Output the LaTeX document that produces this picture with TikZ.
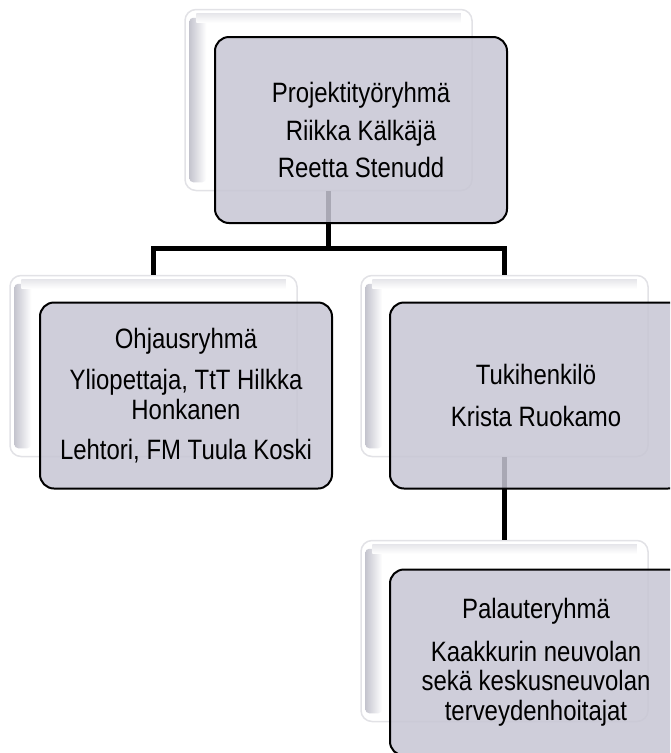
\documentclass[tikz,border=0pt]{standalone}
\usepackage{fontspec}
\setmainfont[FakeStretch=0.855]{Liberation Sans}
\usetikzlibrary{calc}
\definecolor{frontfill}{RGB}{199,198,212}
\definecolor{backedge}{RGB}{226,226,230}
\definecolor{bevel}{RGB}{196,196,206}
\tikzset{
  backbox/.style={draw=backedge, line width=1.5pt, fill=white, rounded corners=11pt,
    minimum width=287pt, minimum height=181pt, inner sep=0pt},
  frontbox/.style={draw=black, line width=2pt, fill=frontfill, fill opacity=0.85, text opacity=1,
    rounded corners=14pt, minimum width=292pt, minimum height=186pt, inner sep=0pt,
    align=center, font=\fontsize{28}{29.5}\selectfont},
  conn/.style={draw=black, line width=5pt, line join=miter},
}
\newcommand{\bevelbox}[1]{%
  \shade[left color=bevel, right color=white, rounded corners=4pt]
    ($(#1.north west)+(5pt,-9pt)$) rectangle ($(#1.south west)+(22pt,9pt)$);
  \shade[top color=bevel!40, bottom color=white]
    ($(#1.north west)+(12pt,-5pt)$) rectangle ($(#1.north east)+(-12pt,-14pt)$);
}
\begin{document}
\begin{tikzpicture}[x=1pt,y=1pt]
\useasboundingbox (0,0) rectangle (670,-753);
\clip (0,0) rectangle (670,-753);
% back boxes
\node[backbox] (tb) at (328.5,-100) {};
\node[backbox] (lb) at (153.5,-366) {};
\node[backbox] (rb) at (504.5,-366) {};
\node[backbox] (bb) at (504.5,-631) {};
\bevelbox{tb}
\bevelbox{lb}
\bevelbox{rb}
\bevelbox{bb}
% connectors
\coordinate (j) at (328.5,-248);
\draw[conn] (tb.south) -- (j);
\draw[conn] (lb.north) |- (j) -| (rb.north);
\draw[conn] (rb.south) -- (bb.north);
% front boxes
\node[frontbox] (tf) at (361,-130) {Projektityöryhmä\\[8pt]Riikka Kälkäjä\\[8pt]Reetta Stenudd};
\node[frontbox] (lf) at (186,-395.5) {Ohjausryhmä\\[12pt]Yliopettaja, TtT Hilkka\\Honkanen\\[11pt]Lehtori, FM Tuula Koski};
\node[frontbox] (rf) at (536,-395.5) {Tukihenkilö\\[13pt]Krista Ruokamo};
\node[frontbox] (bf) at (536,-662.5) {Palauteryhmä\\[13pt]Kaakkurin neuvolan\\sekä keskusneuvolan\\terveydenhoitajat};
\end{tikzpicture}
\end{document}
